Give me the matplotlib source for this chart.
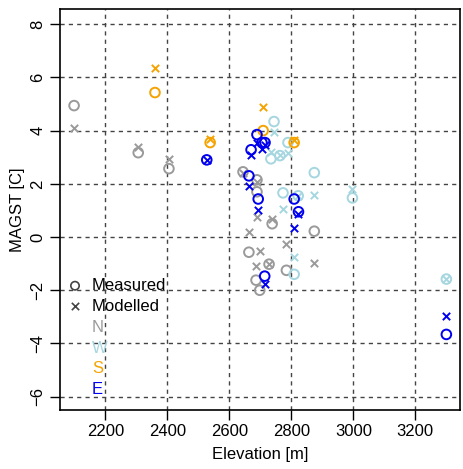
import numpy as np
import matplotlib
matplotlib.use("Agg")
import matplotlib.pyplot as plt

plt.rcParams['font.family'] = ['Liberation Sans', 'DejaVu Sans']

# station elevation [m], measured and modelled MAGST [C], by aspect
elev_n = [2099, 2306, 2405, 2644, 2689, 2689, 2738, 2663, 2874, 2728, 2784, 2686, 2698]
meas_n = [4.94, 3.17, 2.57, 2.45, 2.15, 1.70, 0.50, -0.57, 0.22, -1.02, -1.25, -1.62, -2.00]
mod_n = [4.11, 3.40, 2.94, 2.40, 2.05, 0.75, 0.68, 0.19, -0.98, -1.02, -0.26, -1.10, -0.53]

elev_w = [2744, 2734, 2763, 2789, 2874, 2773, 2822, 2997, 2809, 3300]
meas_w = [4.34, 2.94, 3.06, 3.55, 2.42, 1.66, 1.55, 1.47, -1.40, -1.58]
mod_w = [3.96, 3.20, 3.10, 3.17, 1.58, 1.06, 1.55, 1.81, -0.75, -1.58]

elev_s = [2360, 2538, 2709, 2809]
meas_s = [5.43, 3.55, 4.00, 3.55]
mod_s = [6.34, 3.70, 4.90, 3.66]

elev_e = [2527, 2689, 2705, 2715, 2670, 2663, 2693, 2809, 2823, 2714, 3300]
meas_e = [2.90, 3.85, 3.55, 3.55, 3.28, 2.30, 1.43, 1.43, 0.95, -1.47, -3.66]
mod_e = [2.90, 3.55, 3.30, 3.45, 3.10, 1.92, 1.02, 0.34, 0.85, -1.77, -2.98]

aspects = ['N', 'W', 'S', 'E']
colors = ['#9a9a9a', '#a6d6e0', '#f5a300', '#0000ee']
groups = [(elev_n, meas_n, mod_n), (elev_w, meas_w, mod_w),
          (elev_s, meas_s, mod_s), (elev_e, meas_e, mod_e)]

fig = plt.figure(figsize=(4.63, 4.69), dpi=100)
ax = fig.add_axes([59.5 / 463, 59 / 469, 400.5 / 463, 401 / 469])

for (el, me, mo), c in zip(groups, colors):
    ax.scatter(el, me, s=48, facecolors='none', edgecolors=c, linewidths=1.4, zorder=3)
    ax.scatter(el, mo, s=28, marker='x', color=c, linewidths=1.4, zorder=3)

ax.set_xlim(2052, 3344)
ax.set_ylim(-6.5, 8.57)
xt = [2200, 2400, 2600, 2800, 3000, 3200]
yt = [-6, -4, -2, 0, 2, 4, 6, 8]
ax.set_xticks(xt)
ax.set_yticks(yt)
ax.set_yticklabels([str(v).replace('-', '\u2212') for v in yt], rotation=90, va='center')
ax.tick_params(direction='out', length=7, width=1, labelsize=12, pad=3, color='black')
for x in xt:
    ax.axvline(x, color='#444444', lw=1, ls=(0, (3, 3)), zorder=1)
for y in yt:
    ax.axhline(y, color='#444444', lw=1, ls=(0, (3, 3)), zorder=1)
for sp in ax.spines.values():
    sp.set_linewidth(1.2)

ax.set_xlabel('Elevation [m]', fontsize=12, labelpad=6)
ax.set_ylabel('MAGST [C]', fontsize=12, labelpad=4)

# legend in R style: symbols then coloured aspect names
lx_sym, lx_txt = 2102, 2157
ly0, dy = -1.83, 0.78
ax.scatter([lx_sym], [ly0], s=36, facecolors='none', edgecolors='#444444', linewidths=1.2, zorder=4)
ax.scatter([lx_sym], [ly0 - dy], s=28, marker='x', color='#444444', linewidths=1.2, zorder=4)
ax.text(lx_txt, ly0, 'Measured', fontsize=12, va='center', ha='left', zorder=4)
ax.text(lx_txt, ly0 - dy, 'Modelled', fontsize=12, va='center', ha='left', zorder=4)
for i, (a, c) in enumerate(zip(aspects, colors)):
    ax.text(lx_txt, ly0 - (i + 2) * dy, a, fontsize=12, color=c, va='center', ha='left', zorder=4)

fig.savefig('out.png', dpi=100)
